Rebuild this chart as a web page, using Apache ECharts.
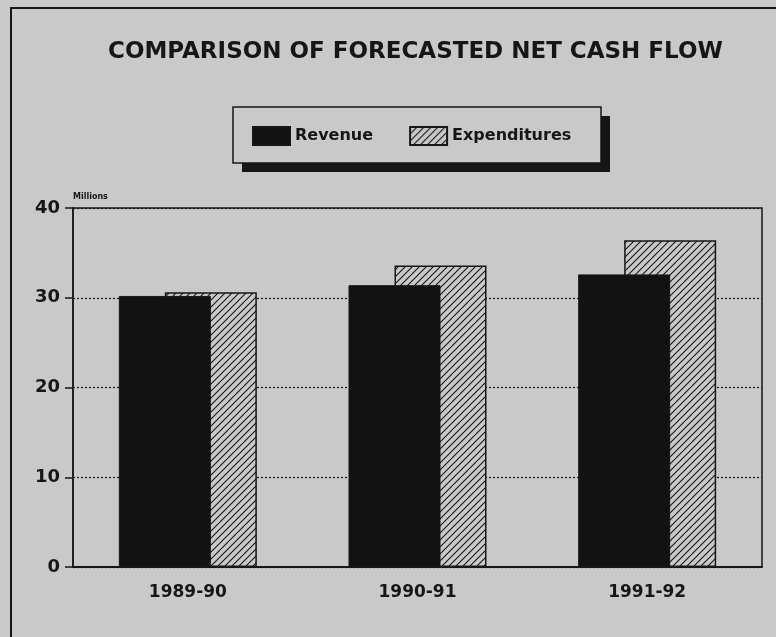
<!DOCTYPE html>
<html>
<head>
<meta charset="utf-8">
<script src="https://cdn.jsdelivr.net/npm/echarts@6/dist/echarts.min.js"></script>
<style>
  html, body { margin: 0; padding: 0; background: #c9c9c9; }
  #chart { width: 776px; height: 637px; }
</style>
</head>
<body>
<div id="chart"></div>
<script>
// data
var years = ['1989-90', '1990-91', '1991-92'];
var revenue = [30.2, 31.4, 32.6];
var expenditures = [30.6, 33.6, 36.4];
var yTicks = [0, 10, 20, 30, 40];

var paper = '#c9c9c9';
var ink = '#161616';
var font = 'DejaVu Sans';

// hatch fill ( //// ) for expenditures
function hatch() {
  var c = document.createElement('canvas');
  c.width = 7; c.height = 7;
  var g = c.getContext('2d');
  g.fillStyle = paper;
  g.fillRect(0, 0, 7, 7);
  g.strokeStyle = ink;
  g.lineWidth = 1.1;
  g.beginPath();
  g.moveTo(-1, 8); g.lineTo(8, -1);
  g.moveTo(-1, 1); g.lineTo(1, -1);
  g.moveTo(6, 8); g.lineTo(8, 6);
  g.stroke();
  return c;
}

var chart = echarts.init(document.getElementById('chart'));
chart.setOption({
  backgroundColor: paper,
  animation: false,
  textStyle: { fontFamily: font, color: ink },
  graphic: [
    {
      type: 'rect', silent: true, z: 0,
      shape: { x: 11, y: 8, width: 800, height: 700 },
      style: { fill: null, stroke: ink, lineWidth: 2 }
    },
    {
      type: 'text', left: 108, top: 41,
      style: {
        text: 'COMPARISON OF FORECASTED NET CASH FLOW',
        font: 'bold 23px ' + font, fill: ink
      }
    },
    // legend box with its hard drop shadow
    {
      type: 'rect', silent: true, z: 0,
      shape: { x: 242, y: 116, width: 368, height: 56 },
      style: { fill: ink }
    },
    {
      type: 'rect', silent: true, z: 1,
      shape: { x: 233, y: 107, width: 368, height: 56 },
      style: { fill: paper, stroke: ink, lineWidth: 1.5 }
    }
  ],
  legend: {
    left: 233, top: 107,
    padding: [19, 29, 19, 19],
    icon: 'rect',
    itemWidth: 37, itemHeight: 18, itemGap: 36,
    textStyle: { fontSize: 16, fontWeight: 'bold', color: ink, fontFamily: font },
    data: ['Revenue', 'Expenditures']
  },
  grid: {
    left: 73, right: 14, top: 208, bottom: 70,
    show: true, borderColor: ink, borderWidth: 1.5
  },
  xAxis: {
    type: 'category',
    data: years,
    axisLine: { lineStyle: { color: ink, width: 2 } },
    axisTick: { alignWithLabel: true, length: 9, lineStyle: { color: ink, width: 1.5 } },
    axisLabel: { fontSize: 17, fontWeight: 'bold', color: ink, margin: 17 }
  },
  yAxis: {
    type: 'value',
    min: yTicks[0], max: yTicks[yTicks.length - 1], interval: 10,
    name: 'Millions',
    nameGap: 7,
    nameTextStyle: { fontSize: 8, fontWeight: 'bold', color: ink, align: 'left' },
    axisLine: { show: true, lineStyle: { color: ink, width: 1.5 } },
    axisTick: { show: true, length: 8, lineStyle: { color: ink, width: 1.5 } },
    axisLabel: { fontSize: 18, fontWeight: 'bold', color: ink, margin: 13 },
    splitLine: { lineStyle: { color: ink, type: [2, 2], width: 1.2 } }
  },
  series: [
    {
      name: 'Revenue', type: 'bar', z: 3,
      barWidth: 92, barGap: '-50%',
      data: revenue,
      itemStyle: { color: '#121212', borderColor: ink, borderWidth: 1 }
    },
    {
      name: 'Expenditures', type: 'bar', z: 2,
      barWidth: 92,
      data: expenditures,
      itemStyle: { color: { image: hatch(), repeat: 'repeat' }, borderColor: ink, borderWidth: 1.5 }
    }
  ]
});
</script>
</body>
</html>
